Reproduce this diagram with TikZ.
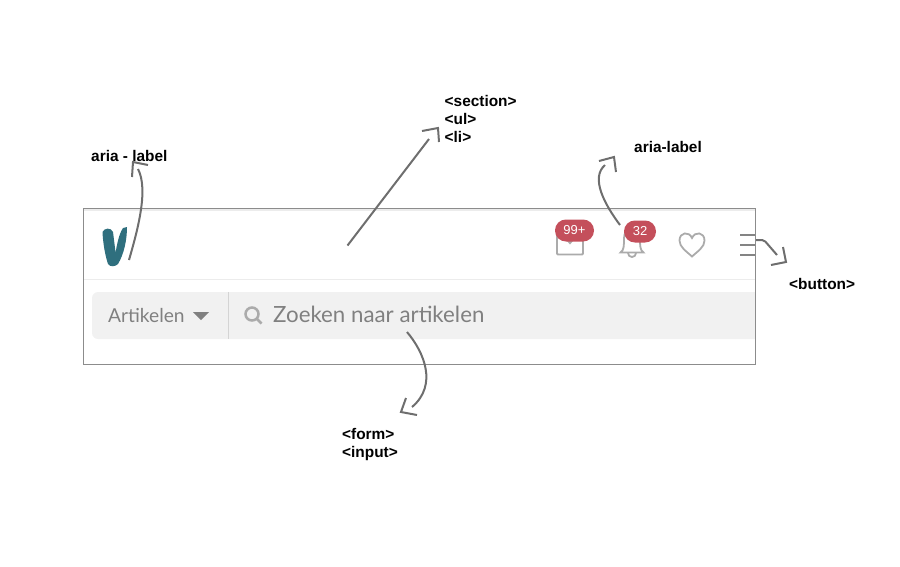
\documentclass[tikz,border=0pt]{standalone}
\usepackage{fontspec}
\setmainfont{Liberation Sans}
\newfontfamily\uifont{Lato}
\usetikzlibrary{positioning}
\definecolor{FrameGray}{HTML}{8C8C8C}
\definecolor{ArrowGray}{HTML}{6E6E6E}
\definecolor{FieldGray}{HTML}{F1F1F1}
\definecolor{RuleGray}{HTML}{ECECEC}
\definecolor{TextGray}{HTML}{808080}
\definecolor{IconGray}{HTML}{ABABAB}
\definecolor{BadgeRed}{HTML}{C44F5B}
\definecolor{LogoTeal}{HTML}{2F6F7E}
\tikzset{
	notelabel/.style={anchor=west, inner sep=0pt, align=left, font=\bfseries\fontsize{15.4}{18}\selectfont},
	noteline/.style={draw=ArrowGray, line width=2pt},
	notehead/.style={draw=ArrowGray, line width=2pt, miter limit=10},
	uitext/.style={anchor=west, inner sep=0pt, text=TextGray},
	badgebox/.style={fill=BadgeRed, rounded corners=10.9pt, text=white, inner sep=0pt, minimum height=22pt, font=\fontsize{13}{13}\selectfont},
	iconline/.style={draw=IconGray, line width=1.8pt}
}
\begin{document}
\begin{tikzpicture}[x=1pt,y=-1pt]
	\useasboundingbox (0,0) rectangle (900,566);
	% TOP BAND AND SEARCH FIELD
	\fill[RuleGray] (84,208) rectangle (755,211);
	\draw[RuleGray, line width=1.2pt] (84,279.5) -- (755,279.5);
	\fill[FieldGray] (755,292) -- (98,292) arc (270:180:6) -- (92,333) arc (180:90:6) -- (755,339) -- cycle;
	\draw[RuleGray!90!black, line width=0.8pt] (228,292) -- (228,339);
	\node[uitext, font=\uifont\fontsize{19.2}{20}\selectfont] (menuText) at (108,315.5) {Artikelen};
	\fill[TextGray] (193,312) -- (209,312) -- (201,320) -- cycle;
	\node[uitext, font=\uifont\fontsize{22.3}{24}\selectfont] (searchText) at (273,314) {Zoeken naar artikelen};
	\draw[IconGray, line width=2.5pt] (252,314) circle (6.5);
	\draw[IconGray, line width=2.8pt] (256.5,318.5) -- (261.5,323.5);
	% LOGO
	\fill[LogoTeal] (102.5,232) .. controls (104,228) and (111,227) .. (113,232)
		.. controls (114,240) and (115,247) .. (115.5,253)
		.. controls (117,244) and (119,234) .. (123,228)
		-- (127,227)
		.. controls (127,240) and (124,254) .. (118,264)
		.. controls (115,267) and (110,267) .. (108,264)
		.. controls (105,255) and (103,243) .. (102.5,232) -- cycle;
	% ICONS
	\draw[iconline, rounded corners=1pt] (557,234) rectangle (583,254.5);
	\fill[IconGray] (567,241) -- (570,244.5) -- (573,241) -- cycle;
	\draw[iconline] (620.5,252.5) .. controls (624,250) and (624,246) .. (624,238) .. controls (624,226) and (640,226) .. (640,238) .. controls (640,246) and (640,250) .. (643.5,252.5) -- cycle;
	\draw[iconline] (628,253) arc (180:0:4);
	\draw[iconline] (692,256.5) .. controls (686,251) and (679.5,247) .. (679.5,240.5)
		.. controls (679.5,232) and (689,231) .. (692,238)
		.. controls (695,231) and (704.5,232) .. (704.5,240.5)
		.. controls (704.5,247) and (698,251) .. (692,256.5) -- cycle;
	\foreach \HamburgerY in {235,245,255} {
		\draw[ArrowGray!85!white, line width=1.6pt] (740,\HamburgerY) -- (755,\HamburgerY);
	}
	\node[badgebox, minimum width=39pt] (badgeMail) at (574.5,230.5) {99+};
	\node[badgebox, minimum width=32pt] (badgeBell) at (640,231.5) {32};
	% FRAME
	\draw[FrameGray, line width=1pt] (83.5,208) rectangle (755.5,364.5);
	% LABELS
	\node[notelabel] (labelLogo) at (91,156) {aria - label};
	\node[notelabel] (labelList) at (444.5,118.5) {<section>\\<ul>\\<li>};
	\node[notelabel] (labelBell) at (634,147) {aria-label};
	\node[notelabel] (labelButton) at (789,284) {<button>};
	\node[notelabel] (labelForm) at (342,445) {<form>\\<input>};
	% ARROWS
	\coordinate (logoStart) at (129,260);
	\coordinate (logoEnd) at (138,169);
	\coordinate (logoTip) at (133,162);
	\coordinate (listStart) at (347.5,245.5);
	\coordinate (listEnd) at (429,139);
	\coordinate (listTip) at (438,128);
	\coordinate (bellStart) at (620,225);
	\coordinate (bellEnd) at (605,165);
	\coordinate (bellTip) at (614,157);
	\coordinate (menuStart) at (756,240);
	\coordinate (menuBend) at (764,240);
	\coordinate (menuEnd) at (777,255);
	\coordinate (menuTip) at (786,262);
	\coordinate (formStart) at (407,332);
	\coordinate (formEnd) at (412,407);
	\coordinate (formTip) at (401,412);
	\draw[noteline] (logoStart) .. controls (137,232) and (149,190) .. (logoEnd);
	\draw[notehead] (132,177) -- (logoTip) -- (148,165);
	\draw[noteline] (listStart) -- (listEnd);
	\draw[notehead] (422,131) -- (listTip) -- (439,142);
	\draw[noteline] (bellStart) .. controls (605,205) and (590,178) .. (bellEnd);
	\draw[notehead] (599,161) -- (bellTip) -- (616,172);
	\draw[noteline, rounded corners=2pt] (menuStart) -- (menuBend) -- (menuEnd);
	\draw[notehead] (771,265) -- (menuTip) -- (783,247);
	\draw[noteline] (formStart) .. controls (424,352) and (438,385) .. (formEnd);
	\draw[notehead] (406,398) -- (formTip) -- (417,415);
\end{tikzpicture}
\end{document}
